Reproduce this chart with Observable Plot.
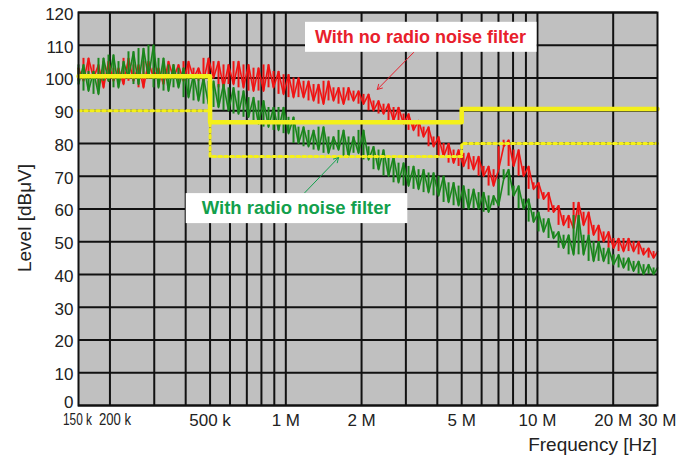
<!DOCTYPE html>
<html><head><meta charset="utf-8">
<script src="https://cdn.jsdelivr.net/npm/d3@7"></script>
<script src="https://cdn.jsdelivr.net/npm/@observablehq/plot@0.6"></script>
<style>
body{margin:0;background:#fff}
#chart svg{display:block}
</style>
</head><body><div id="chart"></div>
<script>
// Frequencies (MHz) at which the traces were read
const freqMHz = [0.150,0.157,0.1644,0.1721,0.1801,0.1886,0.1974,0.2066,0.2163,0.2265,
0.2370,0.2481,0.2598,0.2719,0.2846,0.2980,0.3119,0.3265,0.3418,0.3578,
0.3746,0.3921,0.4105,0.4297,0.4498,0.4709,0.4929,0.5160,0.5402,0.5655,
0.5919,0.6197,0.6487,0.6790,0.7108,0.7441,0.7790,0.8155,0.8536,0.8936,
0.9355,0.9793,1.025,1.073,1.123,1.176,1.231,1.289,1.349,1.412,
1.478,1.547,1.620,1.696,1.775,1.858,1.945,2.036,2.132,2.231,
2.336,2.445,2.560,2.680,2.805,2.937,3.074,3.218,3.369,3.527,
3.692,3.865,4.046,4.236,4.434,4.642,4.859,5.087,5.325,5.575,
5.836,6.109,6.395,6.695,7.009,7.337,7.680,8.040,8.417,8.811,
9.224,9.652,10.10,10.58,11.07,11.59,12.13,12.70,13.30,13.92,
14.57,15.25,15.97,16.72,17.50,18.32,19.17,20.07,21.01,21.99,
23.02,24.10,25.23,26.41,27.65,28.94,30.0];

// Level (dBuV) without radio noise filter
const noFilter = [103,99,106,100,104,97,105,99,103,98,
106,99,104,97,105,100,103,98,105,100,
104,99,105,100,103,99,106,100,105,97,
104,98,105,97,104,96,103,96,104,97,
102,95,101,94,100,94,99,93,98,92,
99,93,97,92,97,93,96,92,95,90,
93,89,92,87,91,86,89,84,87,82,
85,79,82,76,80,74,78,73,77,72,
76,70,73,67,72,79,81,73,78,70,
73,66,68,63,65,59,61,55,58,54,
62,55,59,52,55,50,53,48,51,47,
51,47,50,46,48,45,47];

// Level (dBuV) with radio noise filter
const withFilter = [98,104,96,102,95,106,99,107,97,105,
100,108,98,109,100,110,97,106,96,104,
97,103,94,101,93,100,92,99,91,98,
90,97,89,96,88,94,86,93,85,91,
84,91,83,88,80,85,79,84,78,85,
77,82,78,84,76,82,77,84,75,79,
72,78,70,76,68,74,67,73,66,72,
65,71,64,70,62,68,61,67,60,66,
60,65,59,64,61,69,72,64,67,60,
63,56,59,53,57,51,53,48,52,46,
58,46,52,44,50,44,48,43,46,42,
45,41,44,40,43,40,42];

// Limit lines (step after each frequency)
const limitFreq = [0.15, 0.5, 5, 30];
const qpLimit = [100.5, 86.5, 90.5, 90.5];
const avgLimit = [90, 76, 80, 80];

// Axes
const gridFreq = [0.2,0.3,0.4,0.5,0.6,0.7,0.8,0.9,1,2,3,4,5,6,7,8,9,10,20];
const xTickVals = [0.15,0.2,0.5,1,2,5,10,20,30];
const xTickLabels = ["150 k","200 k","500 k","1 M","2 M","5 M","10 M","20 M","30 M"];
const yTickVals = [0,10,20,30,40,50,60,70,80,90,100,110,120];

const labels = ["With no radio noise filter", "With radio noise filter"];

const RED = "#f01414", GREEN = "#1a861c", YELLOW = "#f4f01a";
const tickFont = "'Liberation Sans', Arial, Helvetica, sans-serif";

function traceMarks(values, color) {
  return [
    Plot.ruleX(values, {x: (d, i) => freqMHz[i], y1: d => d,
      y2: (d, i) => (i + 1 < values.length ? values[i + 1] : d), stroke: color, strokeWidth: 2}),
    Plot.line(values, {x: (d, i) => freqMHz[i], y: d => d, stroke: color, strokeWidth: 1.6})
  ];
}

const chart = Plot.plot({
  width: 678, height: 459,
  marginLeft: 78, marginRight: 21, marginTop: 12, marginBottom: 54,
  style: {background: "white", fontFamily: tickFont, fontSize: "17px", color: "#222"},
  x: {type: "log", domain: [0.15, 30], label: null, axis: null},
  y: {domain: [0, 120], label: null},
  marks: [
    Plot.frame({fill: "#c0c0c0"}),
    Plot.ruleX(gridFreq, {stroke: "#111", strokeWidth: 2}),
    Plot.ruleY(yTickVals, {stroke: "#111", strokeWidth: 2}),
    ...traceMarks(noFilter, RED),
    ...traceMarks(withFilter, GREEN),
    Plot.line(avgLimit, {x: (d, i) => limitFreq[i], y: d => d, curve: "step-after",
      stroke: YELLOW, strokeWidth: 3, strokeDasharray: "3,3"}),
    Plot.line(qpLimit, {x: (d, i) => limitFreq[i], y: d => d, curve: "step-after",
      stroke: YELLOW, strokeWidth: 4.5}),
    Plot.frame({stroke: "#111", strokeWidth: 2}),
    Plot.arrow([labels[0]], {x1: 3.22, y1: 107.8, x2: 2.31, y2: 96.5, stroke: "#e8202c", strokeWidth: 1, headLength: 8}),
    Plot.arrow([labels[1]], {x1: 1.19, y1: 65, x2: 1.62, y2: 75.7, stroke: "#12a04c", strokeWidth: 1, headLength: 8}),
    Plot.text([labels[0]], {x: 3.43, y: 112.6, text: d => d, fill: "#e8202c", fontSize: 19, fontWeight: "bold"}),
    Plot.text([labels[1]], {x: 1.10, y: 60.3, text: d => d, fill: "#12a04c", fontSize: 19, fontWeight: "bold"}),
    // x tick labels
    Plot.text(xTickVals, {x: d => d, text: d => xTickLabels[xTickVals.indexOf(d)], frameAnchor: "bottom",
      lineAnchor: "top", dy: 8, fontSize: 17, fill: "#222"}),
    Plot.axisY(yTickVals, {tickSize: 0, tickPadding: 5, fontSize: 17, dy: 2})
  ]
});
document.getElementById("chart").append(chart);

const svg = d3.select(chart);
// condensed annotation labels with white boxes
const widths = [211, 189];
const pads = [[10, 5], [16, 5]];
svg.selectAll("text").each(function() {
  const idx = labels.indexOf(this.textContent);
  if (idx < 0) return;
  d3.select(this).attr("textLength", widths[idx]).attr("lengthAdjust", "spacingAndGlyphs");
  const bb = this.getBBox();
  const tr = this.getAttribute("transform");
  const [px, py] = pads[idx];
  d3.select(this.parentNode).insert("rect", () => this)
    .attr("transform", tr)
    .attr("x", bb.x - px).attr("y", bb.y - py + 1)
    .attr("width", bb.width + 2 * px).attr("height", bb.height + 2 * py - 1)
    .attr("fill", "white");
});
// condensed first two x tick labels
svg.selectAll("text").each(function() {
  const t = this.textContent;
  if (t === "150 k") {
    d3.select(this).attr("font-size", 16).attr("textLength", 29).attr("lengthAdjust", "spacingAndGlyphs").attr("dx", -1);
  } else if (t === "200 k") {
    d3.select(this).attr("font-size", 16).attr("textLength", 32).attr("lengthAdjust", "spacingAndGlyphs").attr("dx", 5);
  }
});
// lift the "0" y tick label above the frame corner
svg.selectAll("g[aria-label='y-axis tick label'] text").each(function() {
  if (this.textContent === "0") d3.select(this).attr("dy", "-0.32em");
});
// axis titles
svg.append("text").text("Level [dB\u03bcV]")
  .attr("transform", "translate(31,218) rotate(-90)")
  .attr("text-anchor", "middle").attr("font-size", 19).attr("fill", "#222")
  .attr("font-family", tickFont);
svg.append("text").text("Frequency [Hz]")
  .attr("x", 657).attr("y", 451)
  .attr("text-anchor", "end").attr("font-size", 19).attr("fill", "#222")
  .attr("font-family", tickFont);
</script></body></html>
